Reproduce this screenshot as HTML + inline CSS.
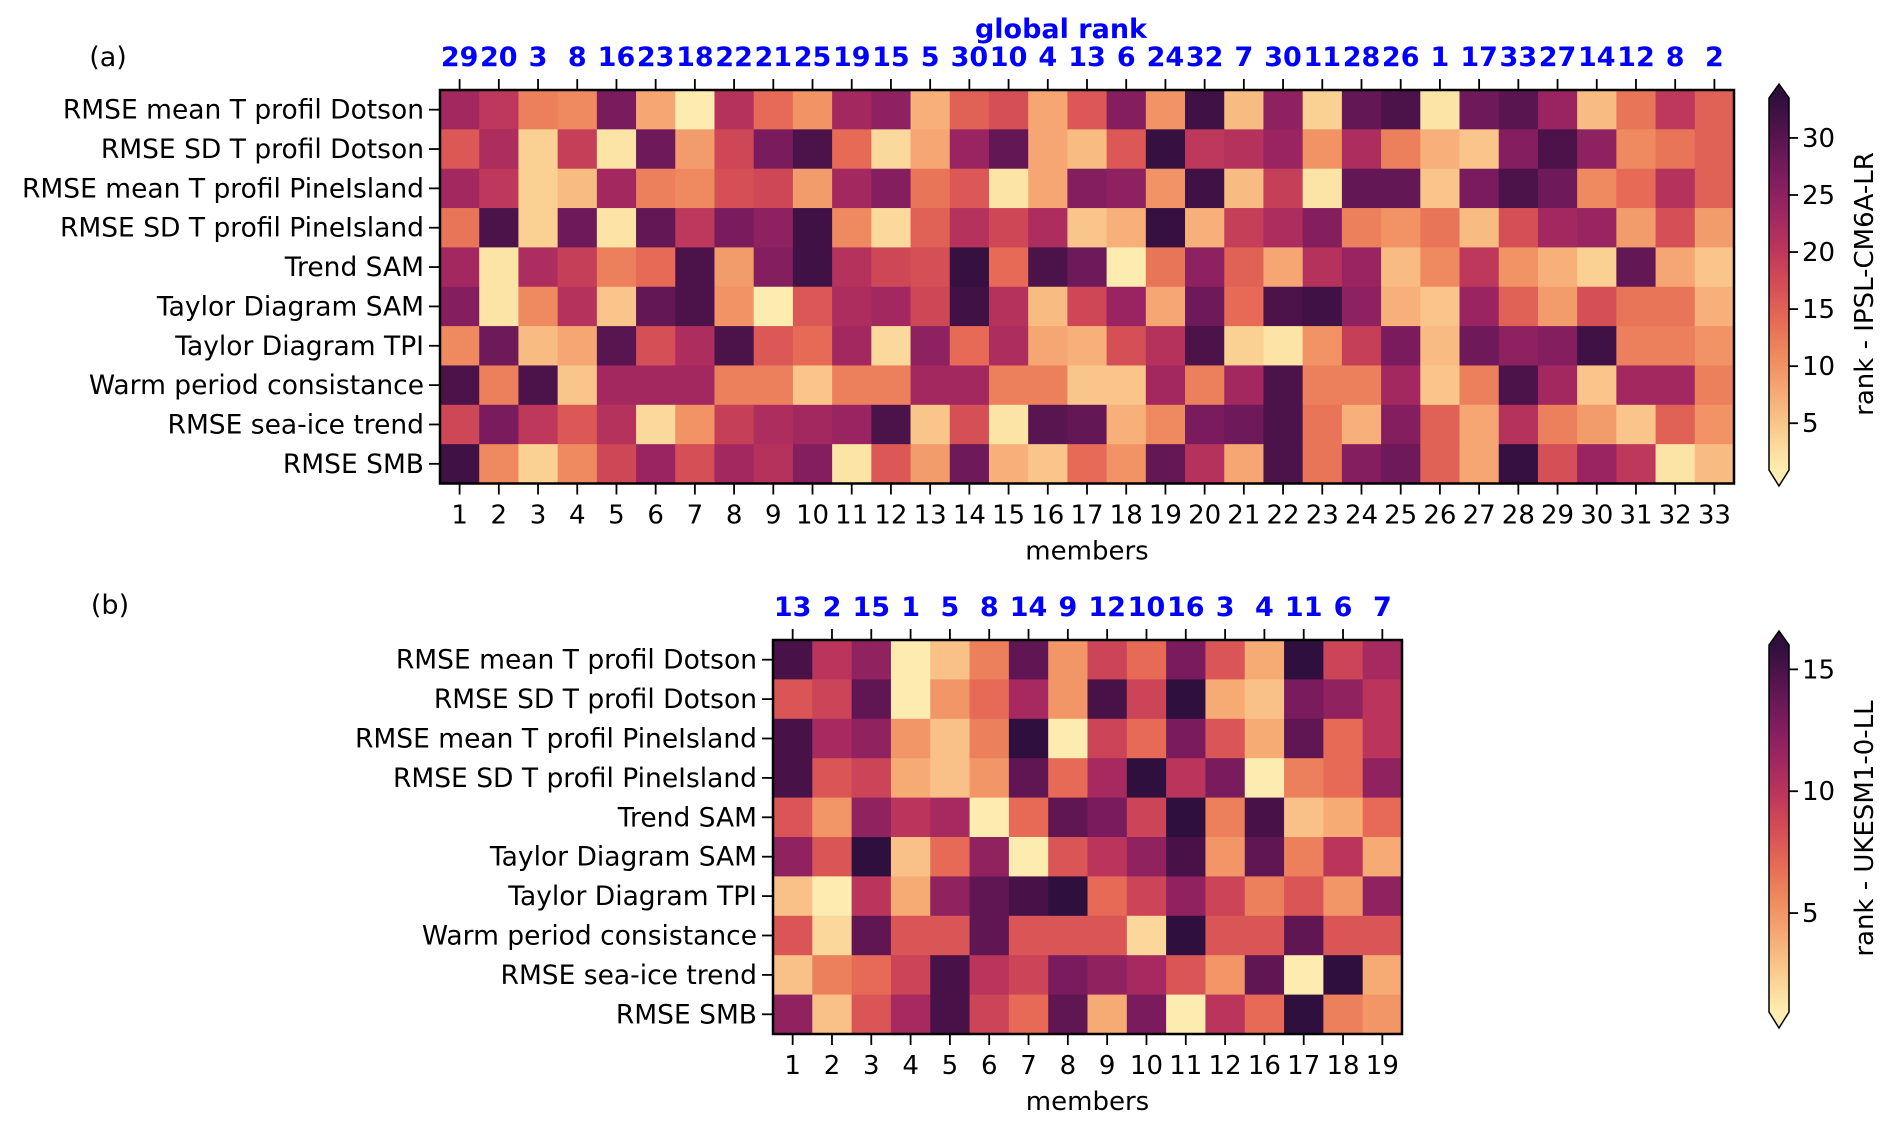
<!DOCTYPE html>
<html><head><meta charset="utf-8">
<style>
html,body{margin:0;padding:0;background:#fff;}
svg{display:block;font-family:"DejaVu Sans","Liberation Sans",sans-serif;}
</style></head>
<body>
<svg id="fig" width="1892" height="1128" viewBox="0 0 1892 1128" xmlns="http://www.w3.org/2000/svg">
<text x="108" y="66" font-size="27" text-anchor="middle">(a)</text>
<text x="110" y="614" font-size="27" text-anchor="middle">(b)</text>
<text x="1061" y="38" font-size="27" font-weight="bold" fill="#0000ff" text-anchor="middle">global rank</text>
<g id="gA"></g>
<g id="gB"></g>
</svg>
<script>
const rowLabels = ["RMSE mean T profil Dotson","RMSE SD T profil Dotson","RMSE mean T profil PineIsland","RMSE SD T profil PineIsland","Trend SAM","Taylor Diagram SAM","Taylor Diagram TPI","Warm period consistance","RMSE sea-ice trend","RMSE SMB"];

const membersA = [1,2,3,4,5,6,7,8,9,10,11,12,13,14,15,16,17,18,19,20,21,22,23,24,25,26,27,28,29,30,31,32,33];
const globalRankA = [29,20,3,8,16,23,18,22,21,25,19,15,5,30,10,4,13,6,24,32,7,30,11,28,26,1,17,33,27,14,12,8,2];
const valuesA = [
[23,20,12,11,27,8,1,21,14,10,23,25,7,15,17,8,16,26,10,32,6,25,4,29,31,2,28,30,24,6,13,20,15],
[16,22,4,19,2,28,9,18,27,31,14,3,8,24,29,8,6,16,33,20,21,24,10,22,12,7,5,26,31,25,11,13,15],
[23,20,4,6,23,12,11,17,18,9,23,26,13,16,2,8,26,25,10,32,6,19,2,29,29,5,27,31,28,11,14,21,15],
[13,31,4,28,2,29,20,27,25,32,11,3,15,21,18,22,5,7,33,7,19,22,26,12,10,13,6,17,23,24,9,17,9],
[23,2,22,19,12,14,31,9,26,32,21,18,17,33,14,31,28,1,13,25,15,8,21,24,6,11,20,10,7,4,29,8,5],
[26,2,11,21,5,29,31,10,1,16,22,23,18,32,21,6,18,24,8,28,14,31,32,25,7,5,24,15,9,17,13,13,7],
[11,28,6,8,30,17,22,31,16,14,23,3,25,14,22,8,7,17,21,31,4,2,10,19,27,6,28,25,26,32,12,12,10],
[31,12,31,5,23,23,23,12,12,5,12,12,23,23,12,12,5,5,23,12,23,31,12,12,23,5,12,31,23,5,23,23,12],
[18,27,20,16,21,3,10,19,22,23,24,31,5,17,2,30,29,7,11,27,28,31,13,7,26,15,8,21,12,9,5,15,10],
[32,11,4,11,18,24,17,23,21,26,2,16,9,28,7,5,14,10,29,21,8,31,13,26,28,15,8,33,17,24,20,2,6]
];

const membersB = [1,2,3,4,5,6,7,8,9,10,11,12,16,17,18,19];
const globalRankB = [13,2,15,1,5,8,14,9,12,10,16,3,4,11,6,7];
const valuesB = [
[15,10,12,1,3,6,14,5,9,7,13,8,4,16,9,11],
[8,9,14,1,5,7,11,5,15,9,16,4,3,13,12,10],
[15,11,12,5,3,6,16,1,9,7,13,8,4,14,7,10],
[15,8,9,4,3,5,14,7,11,16,10,13,1,6,7,12],
[8,5,12,10,11,1,7,14,13,9,16,6,15,3,4,7],
[12,8,16,3,7,12,1,8,10,12,15,5,14,6,10,4],
[3,1,10,4,12,14,15,16,7,9,12,9,6,8,5,12],
[8,2,14,8,8,14,8,8,8,2,16,8,8,14,8,8],
[3,6,7,9,15,10,9,13,12,11,8,5,14,1,16,4],
[12,3,8,11,15,9,7,14,4,13,1,10,7,16,6,5]
];
const cbTicksA = [5,10,15,20,25,30];
const cbTicksB = [5,10,15];

const NS = "http://www.w3.org/2000/svg";
const stops = [[253,237,176],[250,206,146],[246,172,118],[240,140,96],[230,107,86],[212,77,86],[186,52,92],[156,37,97],[121,27,93],[85,20,79],[47,15,61]];
function cmap(t){
  t=Math.max(0,Math.min(1,t));
  const p=t*(stops.length-1), i=Math.min(Math.floor(p),stops.length-2), f=p-i;
  const c=stops[i].map((v,k)=>Math.round(v+(stops[i+1][k]-v)*f));
  return "rgb("+c.join(",")+")";
}
function mk(tag, attrs, parent, text){
  const e=document.createElementNS(NS,tag);
  for(const k in attrs) e.setAttribute(k,attrs[k]);
  if(text!==undefined) e.textContent=text;
  parent.appendChild(e); return e;
}

function drawPanel(g, cfg){
  const {x0,y0,cw,ch,members,ranks,values,vmin,vmax,cbTop,cbBot,ticks,cbLabel,key} = cfg;
  const nC=members.length, nR=rowLabels.length;
  const xS = c => x0 + c*cw;
  const yS = r => y0 + r*ch;
  const x1 = xS(nC), y1 = yS(nR);
  for(let r=0;r<nR;r++){
    for(let c=0;c<nC;c++){
      const rc=mk("rect",{x:xS(c),y:yS(r),width:cw+0.6,height:ch+0.6,fill:cmap((values[r][c]-vmin)/(vmax-vmin))},g);
      
      
    }
    mk("line",{x1:x0-11,x2:x0,y1:yS(r)+ch/2,y2:yS(r)+ch/2,stroke:"#000","stroke-width":1.8},g);
    const t=mk("text",{x:x0-16,y:yS(r)+ch/2+9,"font-size":26.5,"text-anchor":"end"},g,rowLabels[r]);
    
    
  }
  mk("rect",{x:x0,y:y0,width:x1-x0,height:y1-y0,fill:"none",stroke:"#000","stroke-width":2.5},g);
  for(let c=0;c<nC;c++){
    const cx=xS(c)+cw/2;
    mk("line",{x1:cx,x2:cx,y1:y1,y2:y1+11,stroke:"#000","stroke-width":1.8},g);
    mk("line",{x1:cx,x2:cx,y1:y0-11,y2:y0,stroke:"#000","stroke-width":1.8},g);
    const tl=mk("text",{x:cx,y:y1+40,"font-size":26,"text-anchor":"middle"},g,String(members[c]));
    
    
    const rk=mk("text",{x:cx,y:y0-24,"font-size":27,"font-weight":"bold",fill:"#0000ff","text-anchor":"middle"},g,String(ranks[c]));
    
    
  }
  const xl=mk("text",{x:(x0+x1)/2,y:y1+76,"font-size":26,"text-anchor":"middle"},g,"members");
  
  

  const cbx=1769, cbw=20;
  const cy = v => cbBot - (v-vmin)/(vmax-vmin)*(cbBot-cbTop);
  const gradId="grad"+key;
  const defs=mk("defs",{},g);
  const lg=mk("linearGradient",{id:gradId,x1:0,y1:1,x2:0,y2:0},defs);
  for(let i=0;i<=20;i++) mk("stop",{offset:i/20,"stop-color":cmap(i/20)},lg);
  const cb=mk("g",{},g);
  
  
  mk("rect",{x:cbx,y:cbTop,width:cbw,height:cbBot-cbTop,fill:"url(#"+gradId+")"},cb);
  mk("polygon",{points:`${cbx},${cbTop} ${cbx+cbw/2},${cbTop-14} ${cbx+cbw},${cbTop}`,fill:cmap(1)},cb);
  mk("polygon",{points:`${cbx},${cbBot} ${cbx+cbw/2},${cbBot+16} ${cbx+cbw},${cbBot}`,fill:cmap(0)},cb);
  mk("polygon",{points:`${cbx},${cbTop} ${cbx+cbw/2},${cbTop-14} ${cbx+cbw},${cbTop} ${cbx+cbw},${cbBot} ${cbx+cbw/2},${cbBot+16} ${cbx},${cbBot}`,fill:"none",stroke:"#000","stroke-width":1.5},cb);
  ticks.forEach(v=>{
    const y=cy(v);
    mk("line",{x1:cbx+cbw,x2:cbx+cbw+9,y1:y,y2:y,stroke:"#000","stroke-width":1.8},cb);
    const tt=mk("text",{x:cbx+cbw+13,y:y+9,"font-size":26},cb,String(v));
    
    
  });
  const my=(cbTop+cbBot)/2;
  const lab=mk("text",{x:1873,y:my,"font-size":26,"text-anchor":"middle",transform:`rotate(-90 1873 ${my})`},cb,cbLabel);
  
  
}

drawPanel(document.getElementById("gA"),{x0:440,y0:90,cw:(1734-440)/33,ch:39.35,members:membersA,ranks:globalRankA,values:valuesA,vmin:0.9,vmax:33.5,cbTop:98,cbBot:470,ticks:cbTicksA,cbLabel:"rank - IPSL-CM6A-LR",key:"a"});
drawPanel(document.getElementById("gB"),{x0:773,y0:640,cw:(1402-773)/16,ch:39.4,members:membersB,ranks:globalRankB,values:valuesB,vmin:0.94,vmax:16.0,cbTop:645,cbBot:1012,ticks:cbTicksB,cbLabel:"rank - UKESM1-0-LL",key:"b"});
</script>
</body></html>
